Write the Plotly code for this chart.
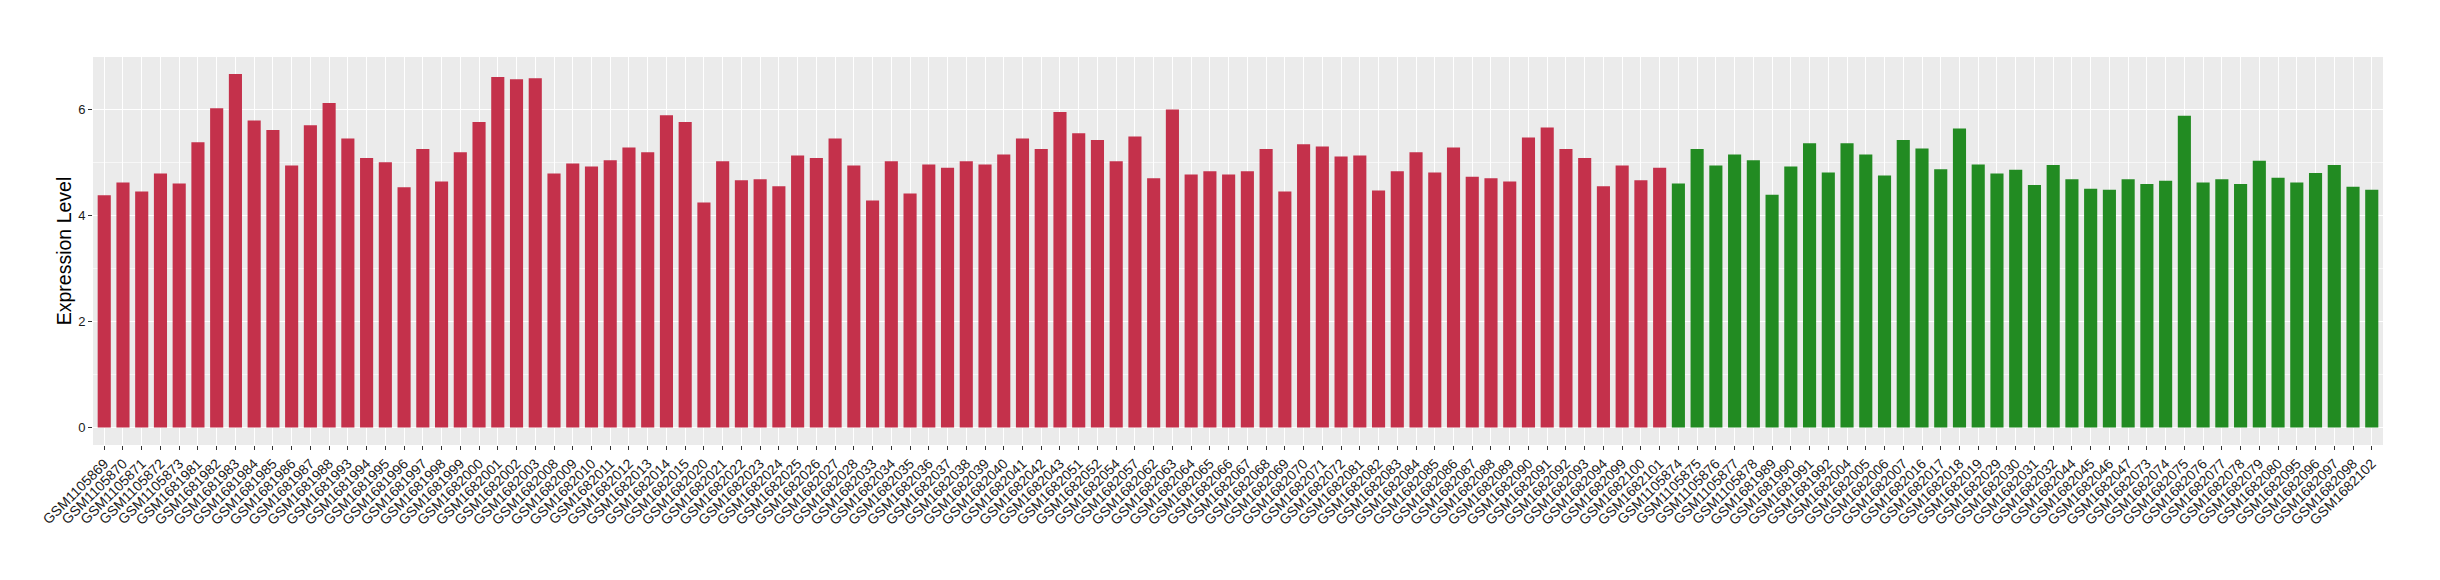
import plotly.graph_objects as go

group_a_samples = [
    "GSM1105869", "GSM1105870", "GSM1105871", "GSM1105872", "GSM1105873",
    "GSM1681981", "GSM1681982", "GSM1681983", "GSM1681984", "GSM1681985",
    "GSM1681986", "GSM1681987", "GSM1681988", "GSM1681993", "GSM1681994",
    "GSM1681995", "GSM1681996", "GSM1681997", "GSM1681998", "GSM1681999",
    "GSM1682000", "GSM1682001", "GSM1682002", "GSM1682003", "GSM1682008",
    "GSM1682009", "GSM1682010", "GSM1682011", "GSM1682012", "GSM1682013",
    "GSM1682014", "GSM1682015", "GSM1682020", "GSM1682021", "GSM1682022",
    "GSM1682023", "GSM1682024", "GSM1682025", "GSM1682026", "GSM1682027",
    "GSM1682028", "GSM1682033", "GSM1682034", "GSM1682035", "GSM1682036",
    "GSM1682037", "GSM1682038", "GSM1682039", "GSM1682040", "GSM1682041",
    "GSM1682042", "GSM1682043", "GSM1682051", "GSM1682052", "GSM1682054",
    "GSM1682057", "GSM1682062", "GSM1682063", "GSM1682064", "GSM1682065",
    "GSM1682066", "GSM1682067", "GSM1682068", "GSM1682069", "GSM1682070",
    "GSM1682071", "GSM1682072", "GSM1682081", "GSM1682082", "GSM1682083",
    "GSM1682084", "GSM1682085", "GSM1682086", "GSM1682087", "GSM1682088",
    "GSM1682089", "GSM1682090", "GSM1682091", "GSM1682092", "GSM1682093",
    "GSM1682094", "GSM1682099", "GSM1682100", "GSM1682101",
]
group_a_values = [
    4.39, 4.63, 4.46, 4.80, 4.61, 5.39, 6.03, 6.68, 5.80, 5.62,
    4.95, 5.71, 6.13, 5.46, 5.09, 5.01, 4.54, 5.26, 4.65, 5.20,
    5.77, 6.62, 6.58, 6.60, 4.80, 4.99, 4.93, 5.05, 5.29, 5.20,
    5.90, 5.77, 4.25, 5.03, 4.67, 4.69, 4.56, 5.14, 5.09, 5.46,
    4.95, 4.29, 5.03, 4.42, 4.97, 4.91, 5.03, 4.97, 5.16, 5.46,
    5.26, 5.96, 5.56, 5.43, 5.03, 5.50, 4.71, 6.01, 4.78, 4.84,
    4.78, 4.84, 5.26, 4.46, 5.35, 5.31, 5.12, 5.14, 4.48, 4.84,
    5.20, 4.82, 5.29, 4.74, 4.71, 4.65, 5.48, 5.67, 5.26, 5.09,
    4.56, 4.95, 4.67, 4.91,
]

group_b_samples = [
    "GSM1105874", "GSM1105875", "GSM1105876", "GSM1105877", "GSM1105878",
    "GSM1681989", "GSM1681990", "GSM1681991", "GSM1681992", "GSM1682004",
    "GSM1682005", "GSM1682006", "GSM1682007", "GSM1682016", "GSM1682017",
    "GSM1682018", "GSM1682019", "GSM1682029", "GSM1682030", "GSM1682031",
    "GSM1682032", "GSM1682044", "GSM1682045", "GSM1682046", "GSM1682047",
    "GSM1682073", "GSM1682074", "GSM1682075", "GSM1682076", "GSM1682077",
    "GSM1682078", "GSM1682079", "GSM1682080", "GSM1682095", "GSM1682096",
    "GSM1682097", "GSM1682098", "GSM1682102",
]
group_b_values = [
    4.61, 5.26, 4.95, 5.16, 5.05, 4.40, 4.93, 5.37, 4.82, 5.37,
    5.16, 4.76, 5.43, 5.27, 4.88, 5.65, 4.97, 4.80, 4.87, 4.58,
    4.96, 4.69, 4.51, 4.49, 4.69, 4.60, 4.66, 5.89, 4.63, 4.69,
    4.60, 5.04, 4.72, 4.63, 4.81, 4.96, 4.55, 4.49,
]

y_tick_values = [0, 2, 4, 6]
y_title = "Expression Level"

RED = "#C4314B"
GREEN = "#228B22"
FONT = "Liberation Sans, Arial, sans-serif"

all_samples = group_a_samples + group_b_samples

fig = go.Figure()
fig.add_trace(go.Bar(x=group_a_samples, y=group_a_values, marker_color=RED,
                     marker_line_width=0, width=0.7, showlegend=False))
fig.add_trace(go.Bar(x=group_b_samples, y=group_b_values, marker_color=GREEN,
                     marker_line_width=0, width=0.7, showlegend=False))

fig.update_layout(
    width=2432, height=572,
    barmode="overlay",
    paper_bgcolor="white",
    plot_bgcolor="#EBEBEB",
    margin=dict(l=85, r=57, t=49, b=135, autoexpand=False),
    font=dict(family=FONT, color="black"),
)
fig.update_xaxes(
    type="category",
    categoryorder="array", categoryarray=all_samples,
    range=[-0.6, len(all_samples) - 0.4],
    showgrid=True, gridcolor="white", gridwidth=1.1,
    tickangle=-45,
    tickfont=dict(size=14, color="#1A1A1A", family=FONT),
    ticks="outside", ticklen=4, tickcolor="#333333", tickwidth=1,
    showline=False, zeroline=False, automargin=False,
)
fig.update_yaxes(
    range=[-0.33, 7.0],
    tickvals=y_tick_values,
    showgrid=True, gridcolor="white", gridwidth=1.1,
    minor=dict(dtick=1, tick0=0, showgrid=True, gridcolor="#F7F7F7", gridwidth=0.6),
    tickfont=dict(size=13, color="#1A1A1A", family=FONT),
    ticks="outside", ticklen=4, tickcolor="#333333", tickwidth=1,
    title=dict(text=y_title, font=dict(size=19.5, color="black", family=FONT), standoff=1),
    showline=False, zeroline=False, automargin=False,
)

fig.write_html("out.html")
